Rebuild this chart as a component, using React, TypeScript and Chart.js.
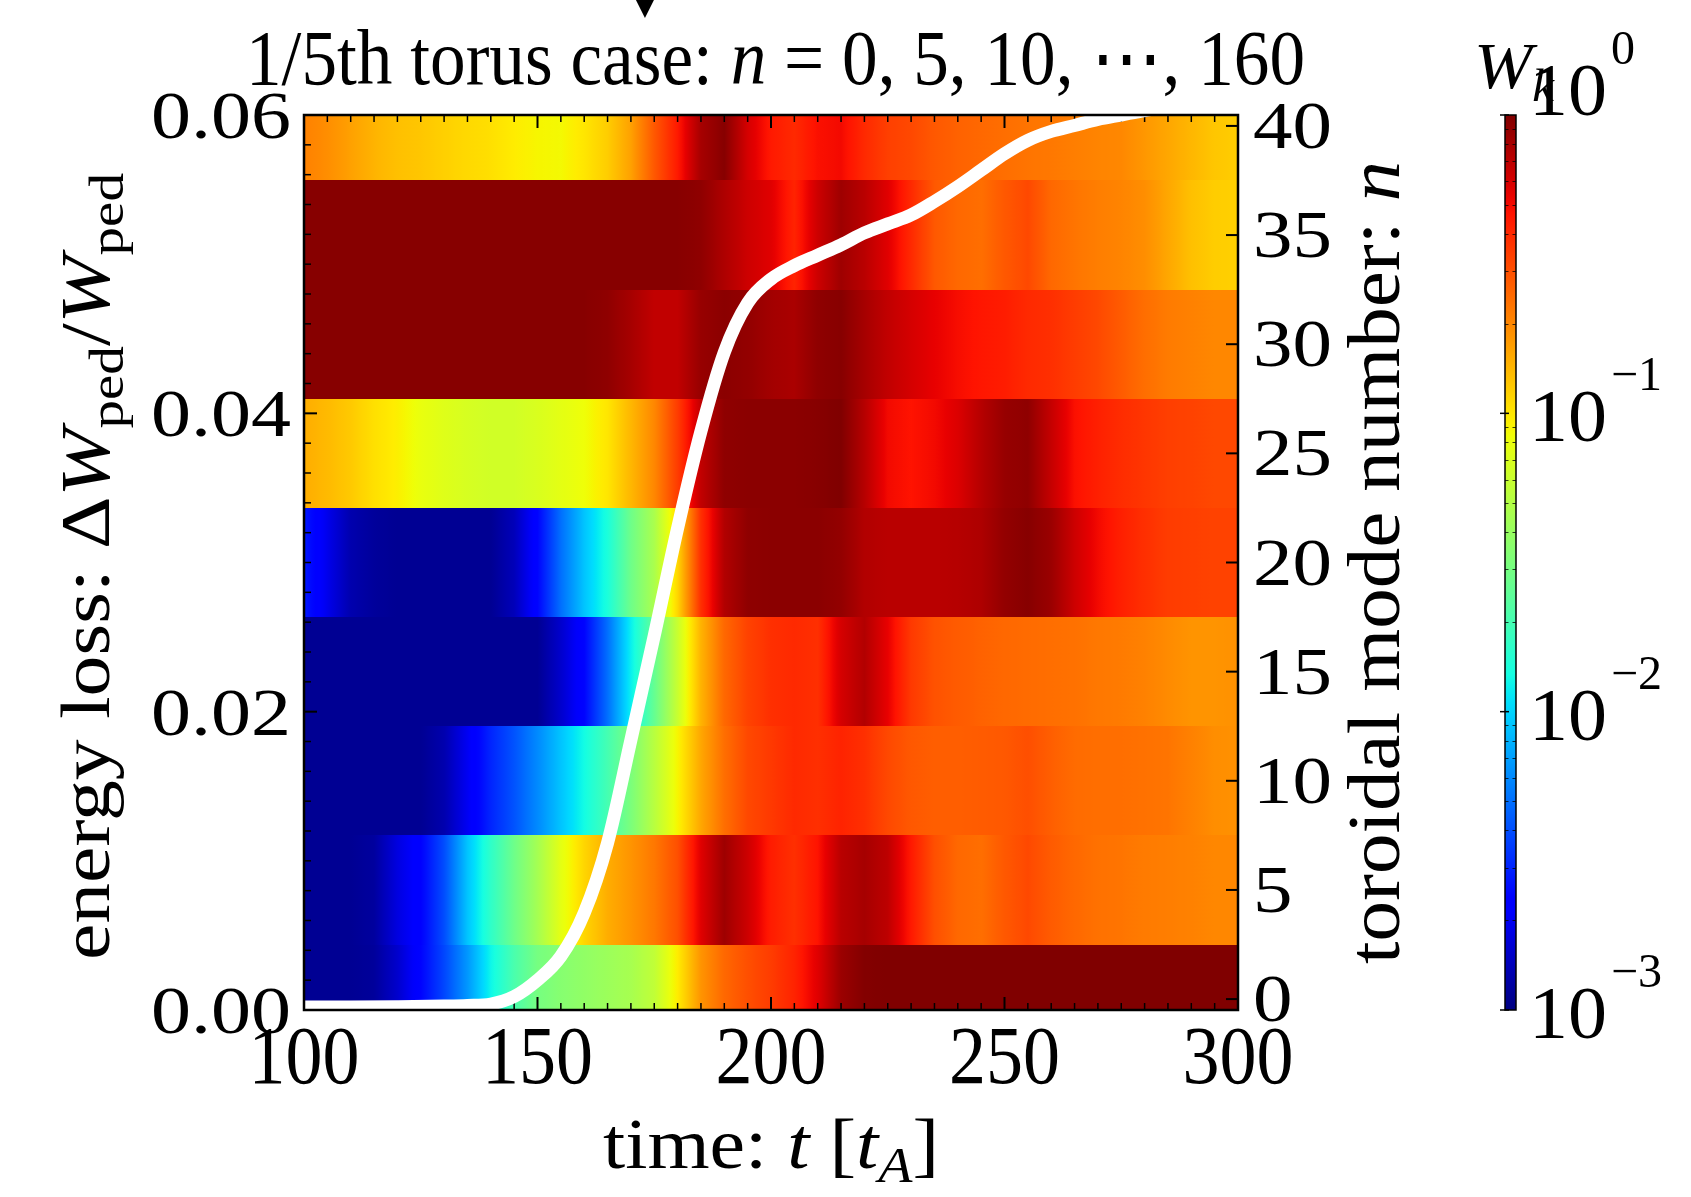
import React, { useEffect, useRef } from "react";
import { Chart, registerables } from "chart.js";

Chart.register(...registerables);

const CANVAS_W = 1691;
const CANVAS_H = 1197;
const FONT = '"Liberation Serif", "DejaVu Serif", serif';

// ---------------- data ----------------
const times = [100, 105, 110, 115, 120, 125, 130, 135, 140, 145, 150, 155, 160, 165, 170, 175, 180, 185, 190, 195, 200, 205, 210, 215, 220, 225, 230, 235, 240, 245, 250, 255, 260, 265, 270, 275, 280, 285, 290, 295, 300];

const modeNumbers = [0, 5, 10, 15, 20, 25, 30, 35, 40];

// log10(W_k) per mode row, sampled at `times`
const logW_n0 = [-2.95, -2.95, -2.95, -2.93, -2.8, -2.62, -2.42, -2.18, -1.9, -1.68, -1.52, -1.46, -1.42, -1.38, -1.34, -1.25, -1.02, -0.74, -0.6, -0.52, -0.46, -0.38, -0.25, -0.07, -0.01, 0, 0, 0, 0, 0, 0, 0, 0, 0, 0, 0, 0, 0, 0, 0, 0];
const logW_n5 = [-2.95, -2.95, -2.95, -2.92, -2.75, -2.63, -2.4, -2.05, -1.78, -1.55, -1.35, -1.12, -0.95, -0.82, -0.74, -0.65, -0.52, -0.25, -0.08, -0.2, -0.36, -0.42, -0.33, -0.15, -0.1, -0.16, -0.35, -0.52, -0.6, -0.62, -0.55, -0.5, -0.56, -0.6, -0.63, -0.64, -0.66, -0.67, -0.68, -0.7, -0.7];
const logW_n10 = [-2.95, -2.95, -2.95, -2.95, -2.95, -2.95, -2.88, -2.7, -2.52, -2.38, -2.22, -2.05, -1.88, -1.7, -1.5, -1.28, -1.05, -0.8, -0.62, -0.5, -0.45, -0.4, -0.42, -0.38, -0.42, -0.5, -0.55, -0.57, -0.57, -0.56, -0.55, -0.52, -0.57, -0.61, -0.62, -0.62, -0.63, -0.64, -0.68, -0.72, -0.73];
const logW_n15 = [-2.95, -2.95, -2.95, -2.95, -2.95, -2.95, -2.95, -2.95, -2.95, -2.95, -2.95, -2.8, -2.62, -2.3, -1.92, -1.58, -1.22, -0.84, -0.6, -0.48, -0.42, -0.4, -0.42, -0.22, -0.13, -0.27, -0.45, -0.53, -0.56, -0.58, -0.6, -0.61, -0.62, -0.63, -0.65, -0.66, -0.68, -0.71, -0.74, -0.74, -0.73];
const logW_n20 = [-2.55, -2.72, -2.88, -2.93, -2.95, -2.95, -2.95, -2.95, -2.95, -2.85, -2.62, -2.3, -2.05, -1.85, -1.55, -1.33, -0.95, -0.42, -0.13, -0.04, -0.03, -0.03, -0.03, -0.05, -0.13, -0.15, -0.15, -0.15, -0.14, -0.12, -0.05, -0.02, -0.07, -0.2, -0.3, -0.37, -0.42, -0.46, -0.47, -0.48, -0.48];
const logW_n25 = [-0.82, -0.86, -0.91, -0.98, -1.03, -1.1, -1.14, -1.17, -1.19, -1.19, -1.16, -1.12, -1.08, -1.0, -0.85, -0.7, -0.46, -0.17, -0.04, -0.03, -0.03, -0.03, -0.02, 0, -0.14, -0.3, -0.33, -0.3, -0.24, -0.14, -0.06, -0.04, -0.18, -0.32, -0.37, -0.41, -0.44, -0.47, -0.48, -0.5, -0.5];
const logW_n30 = [-0.02, -0.02, -0.02, -0.02, -0.02, -0.02, -0.02, -0.02, -0.02, -0.02, -0.02, -0.02, -0.02, -0.04, -0.1, -0.17, -0.17, -0.06, -0.03, -0.05, -0.09, -0.11, -0.04, -0.02, -0.1, -0.17, -0.22, -0.27, -0.31, -0.34, -0.36, -0.4, -0.42, -0.46, -0.5, -0.56, -0.62, -0.66, -0.68, -0.7, -0.7];
const logW_n35 = [-0.02, -0.02, -0.02, -0.02, -0.02, -0.02, -0.02, -0.02, -0.02, -0.02, -0.02, -0.02, -0.02, -0.02, -0.02, -0.02, -0.02, -0.04, -0.12, -0.2, -0.25, -0.38, -0.2, -0.08, -0.15, -0.25, -0.4, -0.55, -0.6, -0.62, -0.55, -0.5, -0.6, -0.64, -0.67, -0.69, -0.72, -0.8, -0.88, -0.92, -0.93];
const logW_n40 = [-0.68, -0.72, -0.78, -0.84, -0.88, -0.9, -0.93, -0.96, -0.98, -1.02, -1.05, -1.06, -1.0, -0.92, -0.78, -0.55, -0.35, -0.1, -0.02, -0.22, -0.35, -0.4, -0.32, -0.3, -0.4, -0.47, -0.5, -0.55, -0.58, -0.6, -0.62, -0.64, -0.65, -0.67, -0.69, -0.7, -0.75, -0.8, -0.85, -0.9, -0.92];

const modeRows = [logW_n0, logW_n5, logW_n10, logW_n15, logW_n20, logW_n25, logW_n30, logW_n35, logW_n40];

// energy loss curve
const energyTime = [100, 110, 120, 130, 135, 140, 145, 150, 155, 160, 165, 170, 175, 180, 185, 190, 195, 200, 205, 210, 215, 220, 225, 230, 235, 240, 245, 250, 255, 260, 265, 270, 275, 280, 290, 300];
const energyLoss = [0.0002, 0.0002, 0.00022, 0.00026, 0.0003, 0.0004, 0.0009, 0.002, 0.0036, 0.0065, 0.0112, 0.0181, 0.0251, 0.0323, 0.0388, 0.0441, 0.0474, 0.049, 0.0499, 0.0506, 0.0513, 0.0521, 0.0527, 0.0533, 0.0542, 0.0552, 0.0563, 0.0574, 0.0583, 0.0589, 0.0593, 0.0597, 0.06, 0.0603, 0.0608, 0.0612];

// ticks / labels
const timeTicks = [100, 150, 200, 250, 300];
const lossTicks = [0, 0.02, 0.04, 0.06];
const lossTickLabels = ["0.00", "0.02", "0.04", "0.06"];
const modeTicks = [0, 5, 10, 15, 20, 25, 30, 35, 40];
const cbarExponents = [0, -1, -2, -3];
const markerTime = [173];

// ---------------- helpers ----------------
const JET_R = [[0, 0], [0.35, 0], [0.66, 1], [0.89, 1], [1, 0.5]];
const JET_G = [[0, 0], [0.125, 0], [0.375, 1], [0.64, 1], [0.91, 0], [1, 0]];
const JET_B = [[0, 0.5], [0.11, 1], [0.34, 1], [0.65, 0], [1, 0]];

function interp(pts: number[][], v: number) {
  for (let i = 1; i < pts.length; i++) {
    if (v <= pts[i][0]) {
      const [x0, y0] = pts[i - 1];
      const [x1, y1] = pts[i];
      return y0 + ((y1 - y0) * (v - x0)) / (x1 - x0);
    }
  }
  return pts[pts.length - 1][1];
}

function jet(v: number) {
  const c = Math.max(0, Math.min(1, v));
  const r = Math.round(255 * interp(JET_R, c));
  const g = Math.round(255 * interp(JET_G, c));
  const b = Math.round(255 * interp(JET_B, c));
  return `rgb(${r},${g},${b})`;
}

type Seg = { t: string; it?: boolean; sub?: boolean; sup?: boolean };

function segFont(S: number, s: Seg) {
  const size = s.sub || s.sup ? S * 0.7 : S;
  return `${s.it ? "italic " : ""}${size}px ${FONT}`;
}

function richWidth(ctx: CanvasRenderingContext2D, segs: Seg[], S: number) {
  let w = 0;
  for (const s of segs) {
    ctx.font = segFont(S, s);
    w += ctx.measureText(s.t).width;
  }
  return w;
}

function drawRich(
  ctx: CanvasRenderingContext2D,
  segs: Seg[],
  S: number,
  x: number,
  y: number,
  opts: { align?: "left" | "center" | "right"; rot?: number; width?: number; sx?: number } = {}
) {
  const nat = richWidth(ctx, segs, S);
  const sx = opts.width ? opts.width / nat : opts.sx ?? 1;
  const align = opts.align ?? "left";
  let cx = align === "center" ? -nat / 2 : align === "right" ? -nat : 0;
  ctx.save();
  ctx.translate(x, y);
  if (opts.rot) ctx.rotate(opts.rot);
  ctx.scale(sx, 1);
  ctx.textAlign = "left";
  ctx.textBaseline = "alphabetic";
  ctx.fillStyle = "#000";
  for (const s of segs) {
    ctx.font = segFont(S, s);
    const dy = s.sub ? 0.2 * S : s.sup ? -0.42 * S : 0;
    ctx.fillText(s.t, cx, dy);
    cx += ctx.measureText(s.t).width;
  }
  ctx.restore();
}

function line(ctx: CanvasRenderingContext2D, x1: number, y1: number, x2: number, y2: number) {
  ctx.beginPath();
  ctx.moveTo(x1, y1);
  ctx.lineTo(x2, y2);
  ctx.stroke();
}

const CB_MIN_EXP = Math.min(...cbarExponents);
const CB_MAX_EXP = Math.max(...cbarExponents);

const heatPlugin = {
  id: "heatmapAndDecor",
  beforeDatasetsDraw(chart: any) {
    const { ctx, chartArea: a, scales } = chart;
    const xs = scales.x;
    const ns = scales.n;
    const ys = scales.y;
    ctx.save();
    ctx.beginPath();
    ctx.rect(a.left, a.top, a.right - a.left, a.bottom - a.top);
    ctx.clip();
    const half = (modeNumbers[1] - modeNumbers[0]) / 2;
    const x0 = xs.getPixelForValue(times[0]);
    const x1 = xs.getPixelForValue(times[times.length - 1]);
    const SUB = 6;
    modeRows.forEach((vals, r) => {
      const n = modeNumbers[r];
      const yTop = Math.round(ns.getPixelForValue(n + half));
      const yBot = Math.round(ns.getPixelForValue(n - half));
      const g = ctx.createLinearGradient(x0, 0, x1, 0);
      for (let i = 0; i < times.length - 1; i++) {
        for (let k = 0; k < SUB; k++) {
          const f = k / SUB;
          const t = times[i] + f * (times[i + 1] - times[i]);
          const v = vals[i] + f * (vals[i + 1] - vals[i]);
          const stop = (xs.getPixelForValue(t) - x0) / (x1 - x0);
          g.addColorStop(Math.max(0, Math.min(1, stop)), jet((v - CB_MIN_EXP) / (CB_MAX_EXP - CB_MIN_EXP)));
        }
      }
      g.addColorStop(1, jet((vals[vals.length - 1] - CB_MIN_EXP) / (CB_MAX_EXP - CB_MIN_EXP)));
      ctx.fillStyle = g;
      ctx.fillRect(x0, yTop, x1 - x0, yBot - yTop);
    });

    // inward ticks
    ctx.strokeStyle = "#000";
    for (let t = xs.min; t <= xs.max + 1e-9; t += 5) {
      const major = timeTicks.includes(t);
      const px = xs.getPixelForValue(t);
      const len = major ? 13 : 7;
      ctx.lineWidth = major ? 2 : 1.5;
      line(ctx, px, a.bottom, px, a.bottom - len);
      line(ctx, px, a.top, px, a.top + len);
    }
    for (let k = 0; k <= 30; k++) {
      const v = k * 0.002;
      const major = k % 10 === 0;
      const py = ys.getPixelForValue(v);
      const len = major ? 13 : 7;
      ctx.lineWidth = major ? 2 : 1.5;
      line(ctx, a.left, py, a.left + len, py);
    }
    for (const n of modeTicks) {
      const py = ns.getPixelForValue(n);
      ctx.lineWidth = 2;
      line(ctx, a.right, py, a.right - 12, py);
    }
    ctx.restore();
  },
  afterDatasetsDraw(chart: any) {
    const { ctx, chartArea: a } = chart;
    ctx.save();
    ctx.strokeStyle = "#000";
    ctx.lineWidth = 2.5;
    ctx.strokeRect(a.left, a.top, a.right - a.left, a.bottom - a.top);
    ctx.restore();
  },
  afterDraw(chart: any) {
    const { ctx, chartArea: a, scales } = chart;
    const xs = scales.x;
    const ys = scales.y;
    const ns = scales.n;
    const cb = scales.cb;
    ctx.save();

    // marker triangle
    for (const mt of markerTime) {
      const mx = xs.getPixelForValue(mt);
      ctx.fillStyle = "#000";
      ctx.beginPath();
      ctx.moveTo(mx - 10, -2);
      ctx.lineTo(mx + 10, -2);
      ctx.lineTo(mx, 18);
      ctx.closePath();
      ctx.fill();
    }

    // title
    drawRich(ctx, [{ t: "1/5th torus case: " }, { t: "n", it: true }, { t: " = 0, 5, 10, ⋯, 160" }], 78, 246, 84, { width: 1059 });

    // bottom tick labels
    {
      const S = 83;
      ctx.font = `${S}px ${FONT}`;
      const sx = 111 / ctx.measureText("100").width;
      for (const t of timeTicks) {
        drawRich(ctx, [{ t: String(t) }], S, xs.getPixelForValue(t), a.bottom + 73, { align: "center", sx });
      }
    }
    // left tick labels
    {
      const S = 68;
      ctx.font = `${S}px ${FONT}`;
      const sx = 140 / ctx.measureText("0.06").width;
      lossTicks.forEach((v, i) => {
        drawRich(ctx, [{ t: lossTickLabels[i] }], S, a.left - 13, ys.getPixelForValue(v) + 23, { align: "right", sx });
      });
    }
    // right tick labels
    {
      const S = 67;
      ctx.font = `${S}px ${FONT}`;
      const sx = 79 / ctx.measureText("40").width;
      for (const n of modeTicks) {
        drawRich(ctx, [{ t: String(n) }], S, a.right + 15, ns.getPixelForValue(n) + 22, { align: "left", sx });
      }
    }

    // axis titles
    drawRich(
      ctx,
      [{ t: "time: " }, { t: "t", it: true }, { t: " [" }, { t: "t", it: true }, { t: "A", it: true, sub: true }, { t: "]" }],
      72,
      (a.left + a.right) / 2,
      1168,
      { align: "center", width: 336 }
    );
    drawRich(
      ctx,
      [{ t: "energy loss: Δ" }, { t: "W", it: true }, { t: "ped", sub: true }, { t: "/" }, { t: "W", it: true }, { t: "ped", sub: true }],
      70,
      109,
      (a.top + a.bottom) / 2 + 4,
      { align: "center", rot: -Math.PI / 2, width: 787 }
    );
    drawRich(
      ctx,
      [{ t: "toroidal mode number: " }, { t: "n", it: true }],
      73,
      1399,
      (a.top + a.bottom) / 2,
      { align: "center", rot: -Math.PI / 2, width: 803 }
    );

    // colorbar
    const cbLeft = 1505;
    const cbW = 11;
    const cTop = cb.getPixelForValue(Math.pow(10, CB_MAX_EXP));
    const cBot = cb.getPixelForValue(Math.pow(10, CB_MIN_EXP));
    const g = ctx.createLinearGradient(0, cBot, 0, cTop);
    const N = 64;
    for (let i = 0; i <= N; i++) g.addColorStop(i / N, jet(i / N));
    ctx.fillStyle = g;
    ctx.fillRect(cbLeft, cTop, cbW, cBot - cTop);
    ctx.strokeStyle = "rgba(0,0,0,0.75)";
    ctx.lineWidth = 1;
    for (let e = CB_MIN_EXP; e < CB_MAX_EXP; e++) {
      for (let m = 2; m <= 9; m++) {
        const py = Math.round(cb.getPixelForValue(m * Math.pow(10, e))) + 0.5;
        line(ctx, cbLeft, py, cbLeft + 3.5, py);
        line(ctx, cbLeft + cbW - 3.5, py, cbLeft + cbW, py);
      }
    }
    ctx.strokeStyle = "#000";
    ctx.lineWidth = 1.5;
    for (const e of cbarExponents) {
      const py = cb.getPixelForValue(Math.pow(10, e));
      line(ctx, cbLeft - 5, py, cbLeft + 4, py);
    }
    ctx.lineWidth = 1.5;
    ctx.strokeRect(cbLeft, cTop, cbW, cBot - cTop);

    // colorbar labels
    {
      const S = 75;
      ctx.font = `${S}px ${FONT}`;
      const sx = 78 / ctx.measureText("10").width;
      for (const e of cbarExponents) {
        const py = cb.getPixelForValue(Math.pow(10, e));
        const base = e === CB_MAX_EXP ? py : py + 28;
        drawRich(ctx, [{ t: "10" }], S, 1529, base, { sx });
        const expTxt = e < 0 ? "\u2212" + String(-e) : String(e);
        drawRich(ctx, [{ t: expTxt }], 48, 1611, base - 51, { sx: 1.0 });
      }
    }
    // colorbar label W_k
    drawRich(ctx, [{ t: "W", it: true }, { t: "k", it: true, sub: true }], 66, 1474, 88, { width: 80 });

    ctx.restore();
  },
};

export default function App() {
  const ref = useRef<HTMLCanvasElement | null>(null);
  useEffect(() => {
    if (!ref.current) return;
    const chart = new Chart(ref.current, {
      type: "line",
      data: {
        datasets: [
          {
            data: energyTime.map((t, i) => ({ x: t, y: energyLoss[i] })),
            xAxisID: "x",
            yAxisID: "y",
            borderColor: "#ffffff",
            borderWidth: 13,
            pointRadius: 0,
            cubicInterpolationMode: "monotone",
            fill: false,
            clip: 0,
            borderJoinStyle: "round",
          } as any,
        ],
      },
      options: {
        responsive: false,
        animation: false,
        devicePixelRatio: 1,
        events: [],
        layout: { padding: { left: 304, top: 115, right: CANVAS_W - 1238, bottom: CANVAS_H - 1010 } },
        plugins: { legend: { display: false }, title: { display: false }, tooltip: { enabled: false } },
        scales: {
          x: { type: "linear", min: 100, max: 300, display: false },
          y: { type: "linear", min: 0, max: 0.06, display: false, position: "left" },
          n: { type: "linear", min: -0.5, max: 40.5, display: false, position: "right" },
          cb: { type: "logarithmic", min: 0.001, max: 1, display: false, position: "right" },
        },
      } as any,
      plugins: [heatPlugin as any],
    });
    return () => chart.destroy();
  }, []);
  return (
    <div style={{ position: "absolute", left: 0, top: 0, width: CANVAS_W, height: CANVAS_H, background: "#fff" }}>
      <canvas ref={ref} width={CANVAS_W} height={CANVAS_H} style={{ display: "block" }} />
    </div>
  );
}
